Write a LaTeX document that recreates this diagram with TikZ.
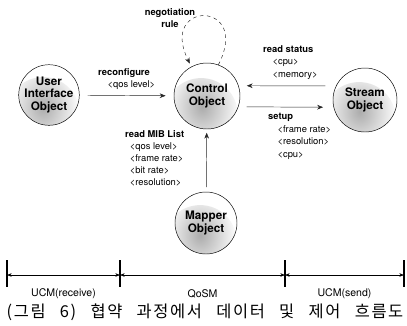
\documentclass[tikz,border=0pt]{standalone}
\usepackage{fontspec}
\setmainfont{TeX Gyre Heros}
\newfontfamily\krfont[LetterSpace=10]{Noto Sans CJK KR}
\usetikzlibrary{positioning, arrows.meta, calc}

\begin{document}
\begin{tikzpicture}[
    x=0.03cm, y=-0.03cm,
    >={Stealth[length=5pt,width=4pt]},
    % Styles
    obj/.style={draw=black, circle, align=center, inner sep=0pt, fill=white,
        font=\fontsize{10}{10.5}\selectfont\bfseries,
        path picture={\shade[inner color=gray!65, outer color=white] ([xshift=-5pt,yshift=-16pt]path picture bounding box.center) circle (1.1cm);}},
    msg/.style={align=left, inner sep=0pt, font=\fontsize{8}{10.8}\selectfont},
    flow/.style={->, thin, draw=black!85},
    bar/.style={line width=1.5pt},
    span/.style={<->, thin, >={Stealth[length=4pt,width=3pt]}},
    part/.style={font=\fontsize{9}{10}\selectfont}
    ]
    \useasboundingbox (0,0) rectangle (407,326);

    % 1. Objects
    \node (user) [obj, minimum size=1.8cm] at (49,95) {User\\Interface\\Object};
    \node (ctrl) [obj, minimum size=1.98cm] at (207,96) {Control\\Object};
    \node (strm) [obj, minimum size=1.92cm] at (365,100) {Stream\\Object};
    \node (mapper) [obj, minimum size=1.86cm] at (206,223) {Mapper\\Object};

    % 2. Messages
    \draw[flow, shorten <=7pt, shorten >=7pt] (user) -- (ctrl);
    \draw[flow, shorten <=9pt, shorten >=7pt] (strm.154) -- (ctrl.18);
    \draw[flow, shorten <=7pt, shorten >=9pt] (ctrl.341) -- (strm.193);
    \draw[flow, shorten <=4pt, shorten >=3pt] (mapper) -- (ctrl);
    % negotiation loop on the control object
    \draw[flow, dashed, shorten >=3pt] (ctrl.70) .. controls (252,0) and (158,0) .. (ctrl.118);

    % 3. Labels
    \node (nego) [msg, align=center, anchor=north] at (170,8) {\textbf{negotiation}\\\textbf{rule}};
    \node (reconf) [msg, anchor=north west] at (98,68) {\textbf{reconfigure}\\\hspace*{8pt}<qos level>};
    \node (status) [msg, anchor=north west] at (263,45) {\textbf{read status}\\\hspace*{8pt}<cpu>\\\hspace*{8pt}<memory>};
    \node (setup) [msg, anchor=north west] at (268,113) {\textbf{setup}\\\hspace*{8pt}<frame rate>\\\hspace*{8pt}<resolution>\\\hspace*{8pt}<cpu>};
    \node (mib) [msg, anchor=north west, font=\fontsize{8}{10.2}\selectfont] at (125,130) {\textbf{read MIB List}\\\hspace*{4pt}<qos level>\\\hspace*{4pt}<frame rate>\\\hspace*{4pt}<bit rate>\\\hspace*{4pt}<resolution>};

    % 4. Module spans
    \coordinate (t0) at (7,275);
    \coordinate (t1) at (120,275);
    \coordinate (t2) at (285,275);
    \coordinate (t3) at (404,275);
    \foreach \t in {t0,t1,t2,t3}
        \draw[bar] ([yshift=12.75pt]\t) -- ([yshift=-10.2pt]\t);
    \draw[span] (t0) -- (t1);
    \draw[span] (t1) -- (t2);
    \draw[span] (t2) -- (t3);
    \node (recv) [part] at ($(t0)!.5!(t1)+(0,19)$) {UCM(receive)};
    \node (qosm) [part] at ($(t1)!.5!(t2)+(0,19)$) {QoSM};
    \node (send) [part] at ($(t2)!.5!(t3)+(0,19)$) {UCM(send)};

    % 5. Caption
    \node (caption) [font=\krfont\fontsize{14}{16}\selectfont] at (205,312) {\makebox[11.9cm][s]{(그림 6) 협약 과정에서 데이터 및 제어 흐름도}};
\end{tikzpicture}
\end{document}
